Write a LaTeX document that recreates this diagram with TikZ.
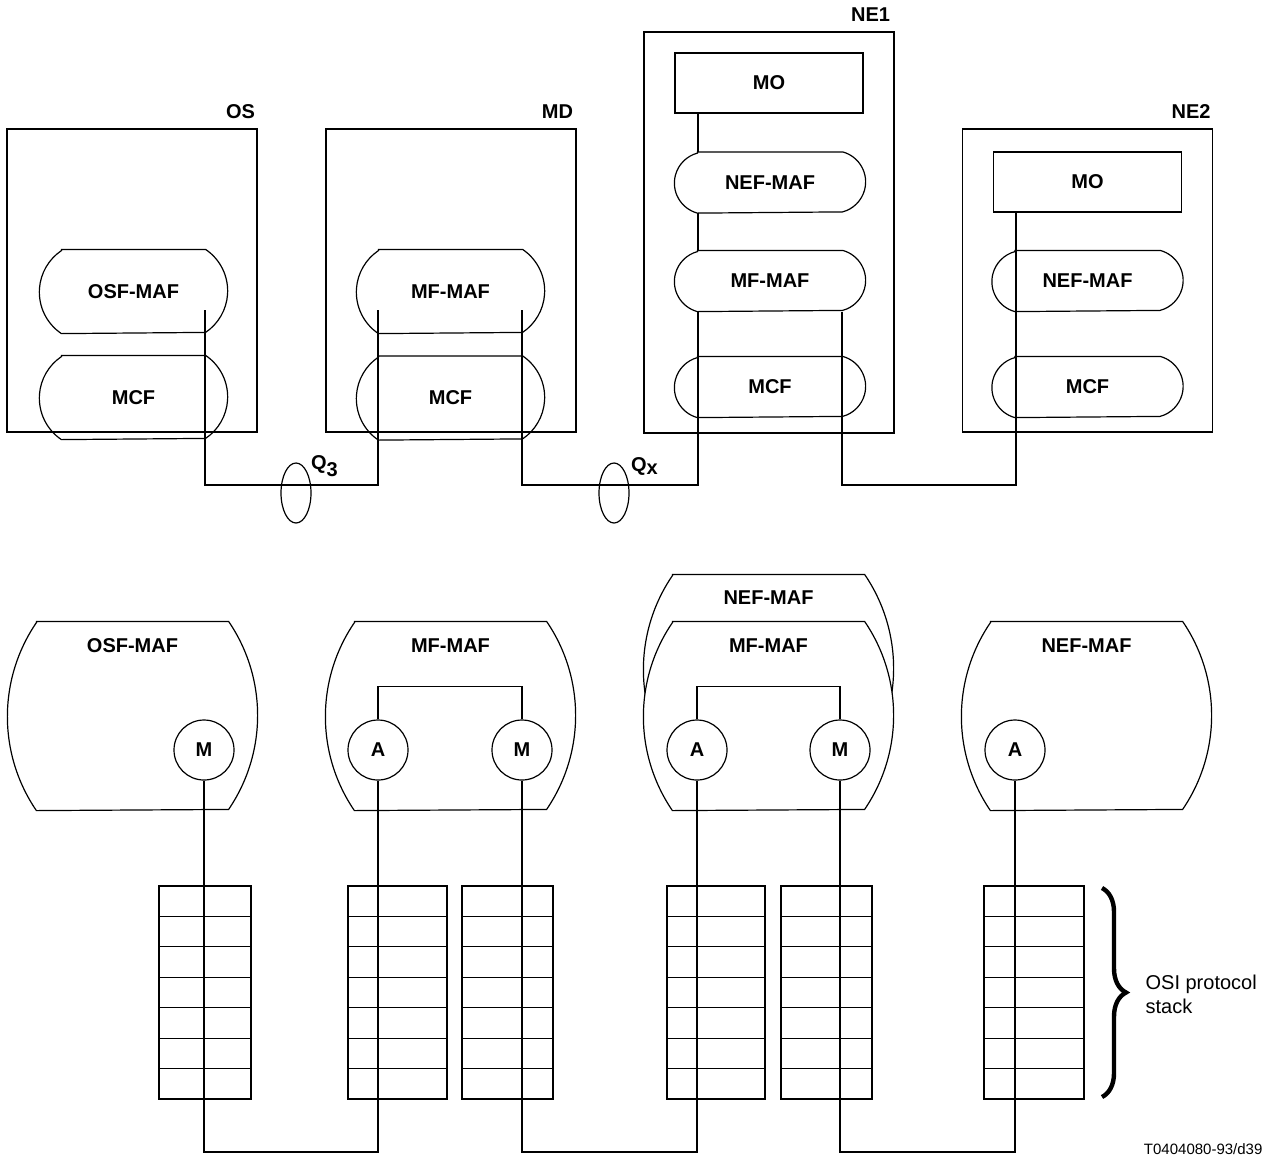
\documentclass[tikz,border=0pt]{standalone}
\usepackage{fontspec}
\setmainfont{Liberation Sans}
\usetikzlibrary{shapes.geometric, positioning, decorations.pathreplacing}

% outline with circular bulges on both sides: node, half height, half arc angle
\newcommand{\bulge}[4][]{%
  \draw[#1] (#2.north west) -- (#2.north east)
    arc[start angle=#4, end angle=-#4, radius=#3/sin(#4)]
    -- (#2.south west)
    arc[start angle=180+#4, end angle=180-#4, radius=#3/sin(#4)] -- cycle;}

\begin{document}
\begin{tikzpicture}[
    x=0.5pt, y=-0.5pt,
    line width=0.6pt,
    system/.style={rectangle, draw, inner sep=0pt, minimum width=125pt, minimum height=151.5pt},
    tag/.style={font=\bfseries, inner sep=0pt, anchor=south east},
    func/.style={rectangle, font=\bfseries, inner sep=0pt, minimum width=71.5pt, minimum height=41.5pt},
    slimfunc/.style={func, minimum width=72pt, minimum height=30pt},
    mobox/.style={rectangle, draw, font=\bfseries, inner sep=0pt, minimum width=94pt, minimum height=30pt},
    agent/.style={rectangle, inner sep=0pt, minimum width=95.5pt, minimum height=94pt},
    agentname/.style={font=\bfseries, inner sep=0pt},
    port/.style={circle, draw, fill=white, font=\bfseries, inner sep=0pt, minimum size=30pt},
    iface/.style={ellipse, draw, inner sep=0pt, minimum width=15pt, minimum height=30pt},
    note/.style={inner sep=0pt, align=left}
]
\useasboundingbox (0,0) rectangle (1272,1157);

% upper part: physical blocks
\node[system] (os) at (132,280.5) {};
\node[system] (md) at (451,280.5) {};
\node[system, minimum height=200.5pt] (ne1) at (769,232.5) {};
\node[system] (ne2) at (1087.5,280.5) {};
\node[tag] (oslbl) at ([shift={(-1pt,4.5pt)}]os.north east) {OS};
\node[tag] (mdlbl) at ([shift={(-1.5pt,4.5pt)}]md.north east) {MD};
\node[tag] (ne1lbl) at ([shift={(-2pt,4.5pt)}]ne1.north east) {NE1};
\node[tag] (ne2lbl) at ([shift={(-1pt,4.5pt)}]ne2.north east) {NE2};

\node[func] (osmaf) at (133.5,291.5) {OSF-MAF};
\node[func] (osmcf) at (133.5,397.5) {MCF};
\node[func] (mdmaf) at (450.5,291.5) {MF-MAF};
\node[func] (mdmcf) at (450.5,398) {MCF};
\node[mobox] (mo1) at (769,83) {MO};
\node[slimfunc] (nefmaf1) at (770,182.5) {NEF-MAF};
\node[slimfunc] (mfmaf1) at (770,281) {MF-MAF};
\node[slimfunc] (mcf1) at (770,387) {MCF};
\node[mobox] (mo2) at (1087.5,182) {MO};
\node[slimfunc] (nefmaf2) at (1087.5,281) {NEF-MAF};
\node[slimfunc] (mcf2) at (1087.5,387) {MCF};
\foreach \f in {osmaf, osmcf, mdmaf, mdmcf} \bulge{\f}{20.75pt}{56};
\foreach \f in {nefmaf1, mfmaf1, mcf1, nefmaf2, mcf2} \bulge{\f}{15pt}{75};

% interfaces
\coordinate (osend) at (205,310);
\coordinate (mdendA) at (378,310);
\coordinate (mdendM) at (522,310);
\coordinate (ne1a) at (698,485);
\coordinate (ne1b) at (842,485);
\coordinate (ne2a) at (1016,485);
\draw (osend) -- (osend |- ne1a) -| (mdendA);
\draw (mdendM) -- (mdendM |- ne1a) -- (ne1a) -- (mfmaf1.south -| ne1a);
\draw (nefmaf1.south -| ne1a) -- (mfmaf1.north -| ne1a);
\draw (mo1.south -| ne1a) -- (nefmaf1.north -| ne1a);
\draw (mfmaf1.south -| ne1b) -- (ne1b) -- (ne2a) -- (mo2.south -| ne2a);
\node[iface] (q3) at (296,493) {};
\node[iface] (qx) at (614,493) {};
\node[agentname] (q3lbl) at (325,466) {Q$_{\textbf{3}}$};
\node[agentname] (qxlbl) at (645,466) {Q$_{\textbf{x}}$};

% lower part: managers and agents
\node[agent] (osb) at (132.5,716) {};
\node[agent] (mdb) at (450.5,716) {};
\node[agent] (ne1nef) at (768.5,669) {};
\node[agent] (ne1mf) at (768.5,716) {};
\node[agent] (ne2b) at (1086.5,716) {};
\foreach \f in {osb, mdb, ne1nef, ne1mf, ne2b} \bulge[fill=white]{\f}{47pt}{34.3};
\node[agentname] at ([yshift=-12pt]osb.north) {OSF-MAF};
\node[agentname] at ([yshift=-12pt]mdb.north) {MF-MAF};
\node[agentname] at ([yshift=-11.5pt]ne1nef.north) {NEF-MAF};
\node[agentname] at ([yshift=-12pt]ne1mf.north) {MF-MAF};
\node[agentname] at ([yshift=-12pt]ne2b.north) {NEF-MAF};

\node[port] (osM) at (204,750) {M};
\node[port] (mdA) at (378,750) {A};
\node[port] (mdM) at (522,750) {M};
\node[port] (ne1A) at (697,750) {A};
\node[port] (ne1M) at (840,750) {M};
\node[port] (ne2A) at (1015,750) {A};
\draw (mdA.north) -- ++(0,-33) -| (mdM.north);
\draw (ne1A.north) -- ++(0,-33) -| (ne1M.north);

% protocol stacks
\foreach \l/\r in {159/251, 348/447, 462/553, 667/765, 781/872, 984/1084} {
  \draw (\l,886) rectangle (\r,1099);
  \foreach \k in {1,...,6}
    \draw (\l,{886+\k*30.43}) -- (\r,{886+\k*30.43});
}
\coordinate (bus) at (0,1152);
\draw (osM.south) -- (osM.south |- bus) -| (mdA.south);
\draw (mdM.south) -- (mdM.south |- bus) -| (ne1A.south);
\draw (ne1M.south) -- (ne1M.south |- bus) -| (ne2A.south);

\draw[decorate, decoration={brace, amplitude=12pt}, line width=2.2pt] (1102,888) -- (1102,1097);
\node[note, anchor=west] (osi) at (1145,994) {OSI protocol\\stack};
\node[note, anchor=base east, font=\fontsize{7.5}{9}\selectfont] (ref) at (1263,1154) {T0404080-93/d39};
\end{tikzpicture}
\end{document}
